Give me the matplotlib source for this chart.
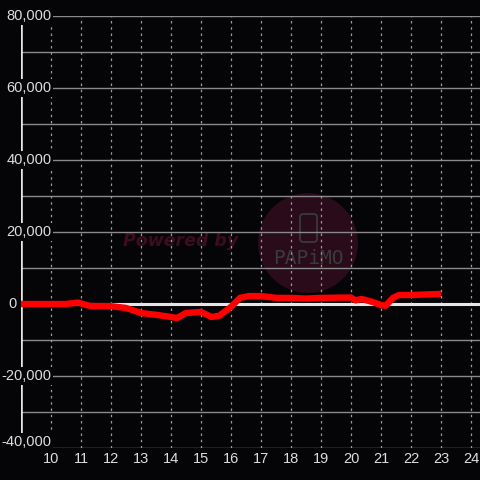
import matplotlib
matplotlib.use("Agg")
import matplotlib.pyplot as plt
from matplotlib.patches import Circle, FancyBboxPatch
import matplotlib.transforms as mtransforms

hours = [9.0, 10.0, 10.5, 10.9, 11.3, 12.0, 12.5, 13.0, 13.5, 14.0, 14.2, 14.5,
         15.0, 15.35, 15.6, 16.0, 16.3, 16.6, 17.0, 17.5, 18.0, 18.5, 19.0,
         20.0, 20.15, 20.35, 20.7, 21.0, 21.15, 21.4, 21.6, 22.0, 23.0]
balance = [0, 0, 0, 400, -550, -600, -1100, -2500, -3000, -3600, -3900, -2500,
           -2200, -3600, -3300, -800, 1700, 2200, 2200, 1700, 1700, 1500, 1700,
           1800, 1000, 1400, 600, -300, -500, 1700, 2500, 2500, 2800]
x_ticks = list(range(10, 25))
y_ticks = [80000, 60000, 40000, 20000, 0, -20000, -40000]
y_grid = list(range(-40000, 80001, 10000))

BG = "#050407"
fig = plt.figure(figsize=(4.8, 4.8), dpi=100, facecolor=BG)
ax = fig.add_axes([21/480, 32/480, 459/480, 432/480], facecolor=BG)
ax.set_xlim(9, 24.3)
ax.set_ylim(-40000, 80000)
for s in ax.spines.values():
    s.set_visible(False)
ax.set_xticks([])
ax.set_yticks([])

FT = fig.transFigure
def P(x, y):
    return (x / 480, (480 - y) / 480)

# watermark (below grid)
ax.add_patch(Circle(P(308, 243), 50/480, transform=FT, facecolor="#2a0b19",
                    edgecolor="none", zorder=0.5, clip_on=False))
ax.add_patch(FancyBboxPatch(P(300, 242), 17/480, 28/480,
                            boxstyle="round,pad=0,rounding_size=0.007",
                            transform=FT, facecolor="none", edgecolor="#3a3a3a",
                            linewidth=1.3, zorder=0.6, clip_on=False))
ax.text(*P(308, 258), "PAPiMO", transform=FT, color="#3a3a3a", fontsize=14,
        family="DejaVu Sans Mono", ha="center", va="center", zorder=0.6)
ax.text(*P(181, 241), "Powered by", transform=FT, color="#3d0c1d", fontsize=12.5,
        fontweight="bold", fontstyle="italic", family="DejaVu Sans",
        ha="center", va="center", zorder=0.6)

# grid
for v in y_grid:
    ax.axhline(v, color="#8a8a8a", linewidth=1, zorder=1)
for h in x_ticks:
    ax.axvline(h, color="#9a9a9a", linewidth=0.9, linestyle=(0, (2, 3)), zorder=1)
ax.axhline(0, color="#e6e6e6", linewidth=2.2, zorder=2)
ax.axvline(9, color="#e6e6e6", linewidth=2.6, zorder=2)

ax.plot(hours, balance, color="#ff0000", linewidth=4.6, solid_joinstyle="round",
        solid_capstyle="butt", zorder=5)

font = "Liberation Sans"
ytrans = mtransforms.blended_transform_factory(FT, ax.transData)
for v in y_ticks:
    yy = v if v != -40000 else -38300
    if v == 0:
        xx, ha = 8, "left"
    else:
        xx, ha = 51.5, "right"
    ax.text(xx / 480, yy, f"{v:,}", transform=ytrans,
            color="#dddddd", fontsize=10.5, family=font, ha=ha, va="center",
            zorder=6, bbox=dict(facecolor=BG, edgecolor="none", pad=1.2))
for h in x_ticks:
    ax.text(h, -41200, str(h), color="#dddddd", fontsize=10.5, family=font,
            ha="center", va="top", zorder=6)

fig.savefig("out.png", dpi=100, facecolor=BG)
